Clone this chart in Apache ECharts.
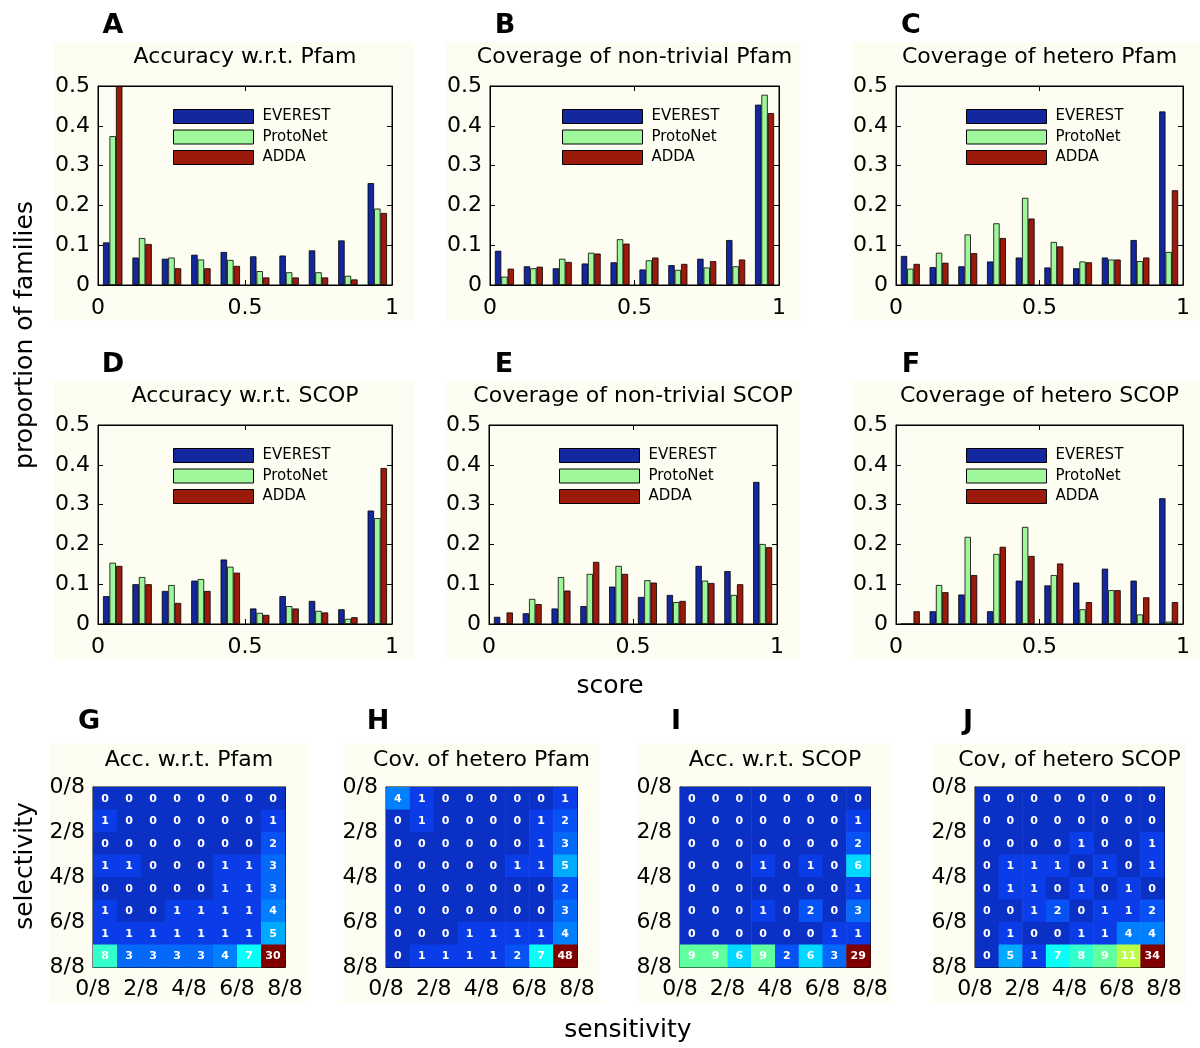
<!DOCTYPE html>
<html>
<head>
<meta charset="utf-8">
<script src="https://cdn.jsdelivr.net/npm/echarts@6/dist/echarts.min.js"></script>
<style>
html,body{margin:0;padding:0;background:#fff;}
#chart{width:1200px;height:1048px;}
</style>
</head>
<body>
<div id="chart"></div>
<script>
// ---------------- DATA ----------------
const methodNames = ['EVEREST', 'ProtoNet', 'ADDA'];
const scoreBins = [0.05, 0.15, 0.25, 0.35, 0.45, 0.55, 0.65, 0.75, 0.85, 0.95];
const scoreTicks = [0, 0.5, 1];

// A: Accuracy w.r.t. Pfam
const A_everest  = [0.107, 0.069, 0.066, 0.076, 0.083, 0.072, 0.074, 0.087, 0.112, 0.256];
const A_protonet = [0.374, 0.118, 0.069, 0.064, 0.063, 0.035, 0.032, 0.032, 0.023, 0.192];
const A_adda     = [0.500, 0.103, 0.042, 0.042, 0.048, 0.019, 0.019, 0.019, 0.014, 0.181];
// B: Coverage of non-trivial Pfam
const B_everest  = [0.086, 0.047, 0.042, 0.054, 0.057, 0.039, 0.050, 0.066, 0.113, 0.453];
const B_protonet = [0.021, 0.042, 0.066, 0.081, 0.115, 0.062, 0.038, 0.044, 0.047, 0.478];
const B_adda     = [0.041, 0.046, 0.058, 0.079, 0.104, 0.069, 0.053, 0.060, 0.064, 0.432];
// C: Coverage of hetero Pfam
const C_everest  = [0.073, 0.045, 0.047, 0.059, 0.069, 0.044, 0.042, 0.069, 0.113, 0.436];
const C_protonet = [0.041, 0.081, 0.127, 0.155, 0.219, 0.108, 0.059, 0.064, 0.060, 0.083];
const C_adda     = [0.053, 0.056, 0.080, 0.118, 0.167, 0.097, 0.057, 0.064, 0.069, 0.238];
// D: Accuracy w.r.t. SCOP
const D_everest  = [0.070, 0.100, 0.083, 0.109, 0.162, 0.039, 0.070, 0.058, 0.037, 0.285];
const D_protonet = [0.154, 0.118, 0.098, 0.113, 0.144, 0.028, 0.045, 0.033, 0.013, 0.266];
const D_adda     = [0.146, 0.100, 0.053, 0.083, 0.129, 0.023, 0.039, 0.029, 0.017, 0.392];
// E: Coverage of non-trivial SCOP
const E_everest  = [0.018, 0.027, 0.039, 0.045, 0.094, 0.068, 0.073, 0.146, 0.133, 0.357];
const E_protonet = [0.000, 0.063, 0.118, 0.126, 0.146, 0.110, 0.055, 0.109, 0.073, 0.201];
const E_adda     = [0.029, 0.050, 0.084, 0.156, 0.126, 0.104, 0.058, 0.103, 0.100, 0.193];
// F: Coverage of hetero SCOP
const F_everest  = [0.000, 0.032, 0.074, 0.032, 0.109, 0.097, 0.104, 0.139, 0.109, 0.316];
const F_protonet = [0.000, 0.098, 0.219, 0.176, 0.244, 0.123, 0.037, 0.085, 0.024, 0.006];
const F_adda     = [0.032, 0.080, 0.123, 0.194, 0.171, 0.152, 0.055, 0.085, 0.067, 0.055];

const propTicks = [0, 0.1, 0.2, 0.3, 0.4, 0.5];
const fractionTicks = ['0/8', '2/8', '4/8', '6/8', '8/8'];

// G-J: selectivity (rows, 0/8 at top) x sensitivity (columns)
const G_counts = [
  [0,0,0,0,0,0,0,0],
  [1,0,0,0,0,0,0,1],
  [0,0,0,0,0,0,0,2],
  [1,1,0,0,0,1,1,3],
  [0,0,0,0,0,1,1,3],
  [1,0,0,1,1,1,1,4],
  [1,1,1,1,1,1,1,5],
  [8,3,3,3,3,4,7,30]
];
const H_counts = [
  [4,1,0,0,0,0,0,1],
  [0,1,0,0,0,0,1,2],
  [0,0,0,0,0,0,1,3],
  [0,0,0,0,0,1,1,5],
  [0,0,0,0,0,0,0,2],
  [0,0,0,0,0,0,0,3],
  [0,0,0,1,1,1,1,4],
  [0,1,1,1,1,2,7,48]
];
const I_counts = [
  [0,0,0,0,0,0,0,0],
  [0,0,0,0,0,0,0,1],
  [0,0,0,0,0,0,0,2],
  [0,0,0,1,0,1,0,6],
  [0,0,0,0,0,0,0,1],
  [0,0,0,1,0,2,0,3],
  [0,0,0,0,0,0,1,1],
  [9,9,6,9,2,6,3,29]
];
const J_counts = [
  [0,0,0,0,0,0,0,0],
  [0,0,0,0,0,0,0,0],
  [0,0,0,0,1,0,0,1],
  [0,1,1,1,0,1,0,1],
  [0,1,1,0,1,0,1,0],
  [0,0,1,2,0,1,1,2],
  [0,1,0,0,1,1,4,4],
  [0,5,1,7,8,9,11,34]
];

// ---------------- STYLE / LAYOUT ----------------
const FONT = '"DejaVu Sans", "Liberation Sans", sans-serif';
const CREAM = '#fdfdf1';
const methodColors = ['#13289c', '#9ff79b', '#9c1a0b'];

const barPanels = [
  {letter:'A', title:'Accuracy w.r.t. Pfam',            data:[A_everest, A_protonet, A_adda], left:98,  top:86,  width:294, height:199, legendLeft:173},
  {letter:'B', title:'Coverage of non-trivial Pfam',    data:[B_everest, B_protonet, B_adda], left:490, top:86,  width:289, height:199, legendLeft:562},
  {letter:'C', title:'Coverage of hetero Pfam',         data:[C_everest, C_protonet, C_adda], left:896, top:86,  width:287, height:199, legendLeft:966},
  {letter:'D', title:'Accuracy w.r.t. SCOP',            data:[D_everest, D_protonet, D_adda], left:98,  top:425, width:294, height:199, legendLeft:173},
  {letter:'E', title:'Coverage of non-trivial SCOP',    data:[E_everest, E_protonet, E_adda], left:489, top:425, width:288, height:199, legendLeft:559},
  {letter:'F', title:'Coverage of hetero SCOP',         data:[F_everest, F_protonet, F_adda], left:896, top:425, width:287, height:199, legendLeft:966}
];
const heatPanels = [
  {letter:'G', title:'Acc. w.r.t. Pfam',     data:G_counts, left:93,  top:787, width:192, height:180, letterX:89},
  {letter:'H', title:'Cov. of hetero Pfam',  data:H_counts, left:386, top:787, width:191, height:180, letterX:378},
  {letter:'I', title:'Acc. w.r.t. SCOP',     data:I_counts, left:680, top:787, width:190, height:180, letterX:676},
  {letter:'J', title:'Cov, of hetero SCOP',  data:J_counts, left:975, top:787, width:189, height:180, letterX:968}
];

const grids = [], xAxes = [], yAxes = [], series = [], legends = [], graphics = [];

function txt(text, x, y, size, opts) {
  opts = opts || {};
  return {
    type:'text', x:x, y:y, rotation: opts.rotation || 0, z:100, silent:true,
    style:{text:text, font:(opts.bold ? 'bold ' : '') + size + 'px ' + FONT, fill:'#000',
      textAlign:'center', textVerticalAlign:'middle', align:'center', verticalAlign:'middle'}
  };
}

function axisCommon(showLabel, fontSize, formatter, margin) {
  return {
    axisLine:{show:true, onZero:false, lineStyle:{color:'#000', width:1}},
    axisTick:{show:true, inside:true, length:5, lineStyle:{color:'#000', width:1}},
    axisLabel:{show:showLabel, fontSize:fontSize, fontFamily:FONT, color:'#000', margin:margin, formatter:formatter},
    splitLine:{show:false}
  };
}

function addGrid(p, xr, yr, fmtX, fmtY, inverseY, xMargin) {
  const gi = grids.length;
  grids.push({left:p.left, top:p.top, width:p.width, height:p.height, show:true,
    backgroundColor:CREAM, borderColor:'#000', borderWidth:1, containLabel:false});
  const xi = xAxes.length;
  xAxes.push(Object.assign({gridIndex:gi, type:'value', position:'bottom', min:xr[0], max:xr[1], interval:xr[2]},
    axisCommon(true, 22, fmtX, xMargin)));
  xAxes.push(Object.assign({gridIndex:gi, type:'value', position:'top', min:xr[0], max:xr[1], interval:xr[2]},
    axisCommon(false, 22, fmtX, xMargin)));
  const yi = yAxes.length;
  yAxes.push(Object.assign({gridIndex:gi, type:'value', position:'left', min:yr[0], max:yr[1], interval:yr[2], inverse:!!inverseY},
    axisCommon(true, 22, fmtY, 8)));
  yAxes.push(Object.assign({gridIndex:gi, type:'value', position:'right', min:yr[0], max:yr[1], interval:yr[2], inverse:!!inverseY},
    axisCommon(false, 22, fmtY, 8)));
  return {xi:xi, yi:yi};
}

// bar panels
barPanels.forEach(function (p) {
  graphics.push({type:'rect', z:-10, silent:true, shape:{x:p.left - 44, y:p.top - 44, width:p.width + 66, height:p.height + 80}, style:{fill:CREAM}});
  const ax = addGrid(p, [scoreTicks[0], scoreTicks[2], scoreTicks[1]], [propTicks[0], propTicks[5], propTicks[1]],
    function (v) { return String(+v.toFixed(2)); }, function (v) { return String(+v.toFixed(2)); }, false, 12);
  methodNames.forEach(function (name, k) {
    series.push({
      type:'bar', name:name, xAxisIndex:ax.xi, yAxisIndex:ax.yi,
      data: scoreBins.map(function (b, i) { return [b, p.data[k][i]]; }),
      barGap:'0%', barCategoryGap:'34%', clip:true,
      itemStyle:{color:methodColors[k], borderColor:'#000', borderWidth:0.8},
      emphasis:{disabled:true}, animation:false
    });
  });
  legends.push({
    data:methodNames, orient:'vertical', left:p.legendLeft, top:p.top + 23,
    itemWidth:80, itemHeight:14, itemGap:5.5, icon:'rect', selectedMode:false, padding:0,
    itemStyle:{borderColor:'#000', borderWidth:1},
    textStyle:{fontSize:15, fontFamily:FONT, color:'#000', padding:[0,0,0,4]}
  });
  graphics.push(txt(p.title, p.left + p.width / 2, p.top - 29, 22));
  graphics.push(txt(p.letter, p.left + 15, p.top - 60, 27, {bold:true}));
});

// heatmap panels
const heatSeriesIdx = [];
heatPanels.forEach(function (p) {
  graphics.push({type:'rect', z:-10, silent:true, shape:{x:p.left - 43, y:p.top - 44, width:p.width + 65, height:p.height + 80}, style:{fill:CREAM}});
  const ax = addGrid(p, [0, 8, 2], [0, 8, 2],
    function (v) { return fractionTicks[v / 2]; }, function (v) { return fractionTicks[v / 2]; }, true, 11);
  const cells = [];
  p.data.forEach(function (row, r) { row.forEach(function (v, c) { cells.push([c, r, v]); }); });
  heatSeriesIdx.push(series.length);
  series.push({
    type:'custom', xAxisIndex:ax.xi, yAxisIndex:ax.yi, data:cells, animation:false,
    encode:{x:0, y:1},
    renderItem:function (params, api) {
      const c = api.value(0), r = api.value(1), v = api.value(2);
      const p0 = api.coord([c, r]), p1 = api.coord([c + 1, r + 1]);
      const x0 = Math.min(p0[0], p1[0]), y0 = Math.min(p0[1], p1[1]);
      const w = Math.abs(p1[0] - p0[0]), h = Math.abs(p1[1] - p0[1]);
      return {type:'group', children:[
        {type:'rect', shape:{x:x0, y:y0, width:w + 0.5, height:h + 0.5}, style:{fill:api.visual('color')}},
        {type:'text', style:{text:String(v), x:x0 + w / 2, y:y0 + h / 2 + 0.5, fill:'#fff',
          font:'bold 11px ' + FONT, align:'center', verticalAlign:'middle', textAlign:'center', textVerticalAlign:'middle'}}
      ]};
    }
  });
  graphics.push(txt(p.title, p.left + p.width / 2, p.top - 27, 22));
  graphics.push(txt(p.letter, p.letterX, p.top - 65, 27, {bold:true}));
});

// axis titles
graphics.push(txt('proportion of families', 25, 335, 25, {rotation:Math.PI / 2}));
graphics.push(txt('score', 610, 686, 25));
graphics.push(txt('selectivity', 25, 866, 25, {rotation:Math.PI / 2}));
graphics.push(txt('sensitivity', 628, 1030, 25));

const option = {
  backgroundColor:'#ffffff',
  animation:false,
  grid:grids, xAxis:xAxes, yAxis:yAxes, legend:legends, series:series,
  visualMap:[{
    type:'continuous', show:false, seriesIndex:heatSeriesIdx, dimension:2,
    min:-1.6, max:21,
    inRange:{color:['#0a1a90', '#0a40f0', '#0080ff', '#00ffff', '#80ff80', '#ffff00', '#ff8000', '#ff0000', '#800000']},
    outOfRange:{color:'#800000'}
  }],
  graphic:{elements:graphics}
};

const chart = echarts.init(document.getElementById('chart'), null, {renderer:'canvas'});
chart.setOption(option);
</script>
</body>
</html>
